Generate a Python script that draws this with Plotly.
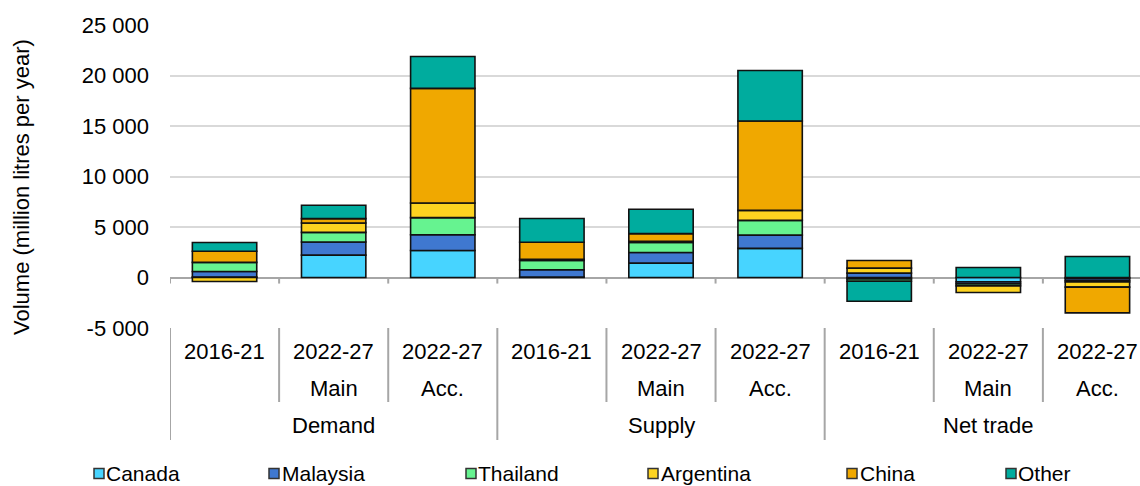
import plotly.graph_objects as go

# ---- data ----
groups = ["Demand", "Supply", "Net trade"]
periods = ["2016-21", "2022-27", "2022-27"]
variants = ["", "Main", "Acc."]
categories = [f"{g} {p} {v}".strip() for g in groups for p, v in zip(periods, variants)]

canada    = [50, 2220, 2680, 50, 1420, 2880, -150, -430, -100]
malaysia  = [550, 1290, 1560, 710, 1060, 1320, 430, -200, -200]
thailand  = [900, 960, 1690, 930, 1000, 1460, -215, -200, -150]
argentina = [-400, 930, 1450, 100, 100, 990, 495, -660, -500]
china     = [1100, 430, 11350, 1700, 765, 8840, 765, None, -2550]
other     = [870, 1320, 3150, 2350, 2410, 5000, -1985, 990, 2080]

series_names = ["Canada", "Malaysia", "Thailand", "Argentina", "China", "Other"]
series_values = [canada, malaysia, thailand, argentina, china, other]
colors = ["#47D4FF", "#3F78D0", "#66F390", "#FDD320", "#F0A800", "#00AC9E"]

y_ticks = [-5000, 0, 5000, 10000, 15000, 20000, 25000]
y_ticktext = ["-5 000", "0", "5 000", "10 000", "15 000", "20 000", "25 000"]

# ---- layout constants (pixels) ----
W, H = 1140, 486
L, R, T, B = 170, 0, 25, 158
PW, PH = W - L - R, H - T - B
FONT = "Liberation Sans, Arial, sans-serif"

def px_x(px):
    return (px - L) / PW

def px_y(py):
    return (H - B - py) / PH

fig = go.Figure()
for name, vals, col in zip(series_names, series_values, colors):
    fig.add_trace(go.Bar(
        x=categories, y=vals, name=name,
        marker=dict(color=col, line=dict(color="#111111", width=1.6)),
        width=0.59, showlegend=False,
    ))

shapes = []
annotations = []

# zero-line tick marks at category boundaries
for i in range(len(categories)):
    shapes.append(dict(type="line", xref="x", yref="y", x0=i - 0.5, x1=i - 0.5,
                       y0=0, y1=-600, line=dict(color="#a6a6a6", width=2)))

# category label separators
for i in range(len(categories) + 1):
    b = i - 0.5
    long_sep = (i % 3 == 0)
    shapes.append(dict(type="line", xref="x", yref="paper", x0=b, x1=b,
                       y0=0, y1=px_y(440) if long_sep else px_y(402),
                       line=dict(color="#a6a6a6", width=2)))

# multi-level category labels
for i, cat in enumerate(categories):
    annotations.append(dict(x=i, y=px_y(351), xref="x", yref="paper", text=periods[i % 3],
                            showarrow=False, font=dict(size=22, color="#000000", family=FONT),
                            xanchor="center", yanchor="middle"))
    if variants[i % 3]:
        annotations.append(dict(x=i, y=px_y(388), xref="x", yref="paper", text=variants[i % 3],
                                showarrow=False, font=dict(size=22, color="#000000", family=FONT),
                                xanchor="center", yanchor="middle"))
for gi, g in enumerate(groups):
    annotations.append(dict(x=gi * 3 + 1, y=px_y(425), xref="x", yref="paper", text=g,
                            showarrow=False, font=dict(size=22, color="#000000", family=FONT),
                            xanchor="center", yanchor="middle"))

# y-axis title
annotations.append(dict(x=px_x(21), y=px_y(187), xref="paper", yref="paper",
                        text="Volume (million litres per year)", textangle=-90,
                        showarrow=False, font=dict(size=22, color="#000000", family=FONT),
                        xanchor="center", yanchor="middle"))

# legend (manual)
marker_left = [94, 269, 466, 648, 847, 1006]
text_left = [106, 282, 478, 661, 860, 1018]
ly = 473.5
for name, col, mx, tx in zip(series_names, colors, marker_left, text_left):
    shapes.append(dict(type="rect", xref="paper", yref="paper",
                       x0=px_x(mx), x1=px_x(mx + 10), y0=px_y(ly + 5), y1=px_y(ly - 5),
                       fillcolor=col, line=dict(color="#333333", width=1.5)))
    annotations.append(dict(x=px_x(tx), y=px_y(ly), xref="paper", yref="paper", text=name,
                            showarrow=False, font=dict(size=21, color="#000000", family=FONT),
                            xanchor="left", yanchor="middle", xshift=-2))

fig.update_layout(
    width=W, height=H,
    margin=dict(l=L, r=R, t=T, b=B, pad=0),
    barmode="relative",
    plot_bgcolor="white", paper_bgcolor="white",
    font=dict(family=FONT, size=22, color="#000000"),
    shapes=shapes, annotations=annotations,
    showlegend=False,
    xaxis=dict(type="category", range=[-0.5, 8.39], showticklabels=False,
               showgrid=False, zeroline=False, showline=False, ticks=""),
    yaxis=dict(range=[-5000, 25000], tickvals=y_ticks, ticktext=y_ticktext,
               showgrid=True, gridcolor="#d9d9d9", gridwidth=2,
               zeroline=True, zerolinecolor="#a6a6a6", zerolinewidth=2,
               showline=False, ticks="", ticklabelstandoff=20,
               tickfont=dict(size=22, color="#000000", family=FONT)),
)

fig.write_html("out.html",
               config={"displayModeBar": False},
               post_script="document.body.style.margin='0px';document.body.style.overflow='hidden';")
